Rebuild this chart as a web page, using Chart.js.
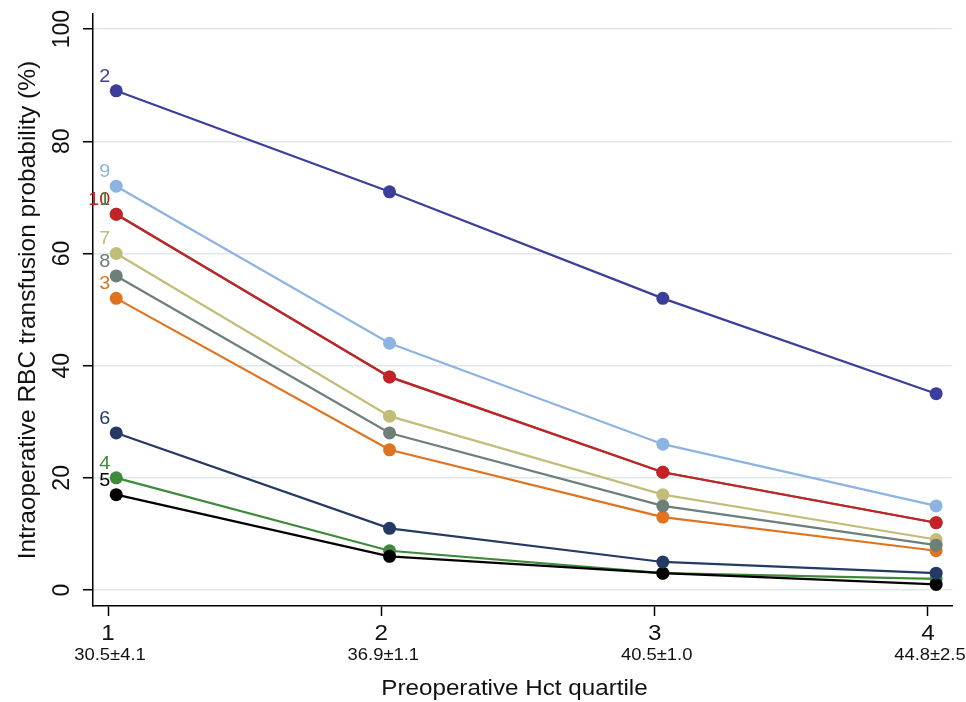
<!DOCTYPE html>
<html>
<head>
<meta charset="utf-8">
<script src="https://cdn.jsdelivr.net/npm/chart.js@4.4.0/dist/chart.umd.min.js"></script>
<style>
    body { margin: 0; background: #fff; }
    canvas { display: block; }
</style>
</head>
<body>
<canvas id="hctChart" width="966" height="702"></canvas>
<script>
// Data
var quartiles = [1, 2, 3, 4];
var hctLabels = ['30.5±4.1', '36.9±1.1', '40.5±1.0', '44.8±2.5'];
var yTicks = [0, 20, 40, 60, 80, 100];

var s1 = [67, 38, 21, 12];
var s2 = [89, 71, 52, 35];
var s3 = [52, 25, 13, 7];
var s4 = [20, 7, 3, 2];
var s5 = [17, 6, 3, 1];
var s6 = [28, 11, 5, 3];
var s7 = [60, 31, 17, 9];
var s8 = [56, 28, 15, 8];
var s9 = [72, 44, 26, 15];
var s10 = [67, 38, 21, 12];

var seriesNames = ['1', '2', '3', '4', '5', '6', '7', '8', '9', '10'];
var seriesValues = [s1, s2, s3, s4, s5, s6, s7, s8, s9, s10];
var seriesColors = ['#4f7d3a', '#3b3f9b', '#e0731f', '#3e8a3a', '#000000',
                    '#243a63', '#c2bd78', '#6c7f78', '#8db3e2', '#c62128'];

// markers sit a little right of the tick, as in the original
var pointShift = 0.03;
var fontFamily = '"Liberation Sans", Arial, Helvetica, sans-serif';

function drawText(ctx, text, x, y, size, color, rot, sx, align, base) {
    ctx.save();
    ctx.translate(x, y);
    ctx.rotate(rot || 0);
    ctx.scale(sx || 1, 1);
    ctx.font = size + 'px ' + fontFamily;
    ctx.fillStyle = color;
    ctx.textAlign = align || 'center';
    ctx.textBaseline = base || 'middle';
    ctx.fillText(text, 0, 0);
    ctx.restore();
}

var datasets = seriesValues.map(function(vals, i) {
    return {
        label: seriesNames[i],
        data: vals.map(function(v, j) { return { x: quartiles[j] + pointShift, y: v }; }),
        borderColor: seriesColors[i],
        backgroundColor: seriesColors[i],
        borderWidth: 2.2,
        pointRadius: 6.5,
        pointBorderWidth: 0,
        tension: 0,
        // later series are drawn on top
        order: seriesValues.length - i
    };
});

// Text layer: rotated y labels, x labels with Hct sublabels, series numbers
var textPlugin = {
    id: 'textLayer',
    afterDraw: function(chart) {
        var ctx = chart.ctx;
        var xs = chart.scales.x;
        var ys = chart.scales.y;
        var area = chart.chartArea;

        yTicks.forEach(function(v) {
            drawText(ctx, String(v), 63, ys.getPixelForValue(v), 23, '#111', -Math.PI / 2, 1);
        });
        drawText(ctx, 'Intraoperative RBC transfusion probability (%)', 28,
            (area.top + area.bottom) / 2, 24.5, '#111', -Math.PI / 2, 1);

        quartiles.forEach(function(q, i) {
            var px = xs.getPixelForValue(q);
            drawText(ctx, String(q), px, 634, 22, '#111', 0, 1.1);
            drawText(ctx, hctLabels[i], px + 2, 656, 16, '#111', 0, 1.15);
        });
        drawText(ctx, 'Preoperative Hct quartile', (area.left + area.right) / 2 - 8, 689, 22, '#111', 0, 1.1);

        // series numbers at the first point; "1" drawn last so it sits over "10"
        var order = [1, 2, 3, 4, 5, 6, 7, 8, 9, 0];
        order.forEach(function(i) {
            var meta = chart.getDatasetMeta(i);
            var pt = meta.data[0];
            drawText(ctx, seriesNames[i], pt.x - 6, pt.y - 9, 18, seriesColors[i], 0, 1.1, 'right', 'alphabetic');
        });
    }
};

var ctx = document.getElementById('hctChart');

var hctChart = new Chart(ctx, {
    type: 'line',
    data: { datasets: datasets },
    options: {
        responsive: false,
        animation: false,
        devicePixelRatio: 1,
        layout: { padding: { left: 0, right: 14, top: 14, bottom: 0 } },
        plugins: {
            legend: { display: false },
            tooltip: { enabled: false }
        },
        scales: {
            x: {
                type: 'linear',
                min: 0.945,
                max: 4.088,
                afterBuildTicks: function(scale) {
                    scale.ticks = quartiles.map(function(v) { return { value: v }; });
                },
                afterFit: function(scale) { scale.height = 96; },
                ticks: { display: false },
                grid: {
                    drawOnChartArea: false,
                    drawTicks: true,
                    tickLength: 10,
                    tickColor: '#000',
                    tickWidth: 1.5
                },
                border: { display: true, color: '#000', width: 1.5 }
            },
            y: {
                type: 'linear',
                min: -2.85,
                max: 102.7,
                afterBuildTicks: function(scale) {
                    scale.ticks = yTicks.map(function(v) { return { value: v }; });
                },
                afterFit: function(scale) { scale.width = 93; },
                ticks: { display: false },
                grid: {
                    color: '#dde9ec',
                    lineWidth: 1.5,
                    drawTicks: true,
                    tickLength: 10,
                    tickColor: '#000',
                    tickWidth: 1.5
                },
                border: { display: true, color: '#000', width: 1.5 }
            }
        }
    },
    plugins: [textPlugin]
});
</script>
</body>
</html>
